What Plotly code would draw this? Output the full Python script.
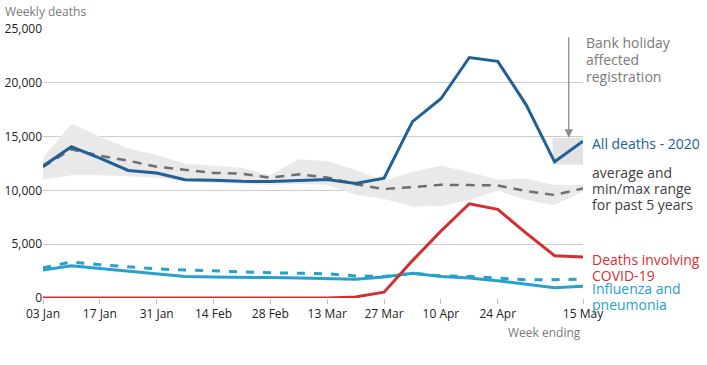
import plotly.graph_objects as go

# ---------------------------------------------------------
# Data (weekly deaths, England and Wales, 2020)
# ---------------------------------------------------------
weeks = ["2020-01-03", "2020-01-10", "2020-01-17", "2020-01-24", "2020-01-31",
         "2020-02-07", "2020-02-14", "2020-02-21", "2020-02-28", "2020-03-06",
         "2020-03-13", "2020-03-20", "2020-03-27", "2020-04-03", "2020-04-10",
         "2020-04-17", "2020-04-24", "2020-05-01", "2020-05-08", "2020-05-15"]

all_deaths_2020 = [12254, 14058, 12990, 11856, 11612, 10986, 10944, 10841, 10816, 10895,
                   11019, 10645, 11141, 16387, 18516, 22351, 21997, 17953, 12657, 14573]
avg_5yr = [12175, 13822, 13216, 12760, 12206, 11925, 11627, 11548, 11183, 11498,
           11205, 10573, 10130, 10305, 10520, 10497, 10458, 9941, 9576, 10188]
max_5yr = [13000, 16200, 15000, 13900, 13300, 12500, 12300, 12100, 11400, 12900,
           12700, 11900, 10900, 11700, 12300, 11700, 11000, 11100, 10500, 10500]
min_5yr = [11000, 11400, 11400, 11300, 11200, 10800, 10700, 10600, 10500, 10600,
           10500, 9600, 9200, 8500, 8550, 9100, 10000, 9100, 8650, 9900]
covid_deaths = [0, 0, 0, 0, 0, 0, 0, 0, 0, 0,
                5, 103, 539, 3475, 6213, 8758, 8237, 6035, 3930, 3810]
flu_pneu_2020 = [2600, 3000, 2750, 2500, 2300, 2000, 1950, 1950, 1900, 1850,
                 1800, 1750, 1950, 2300, 2000, 1850, 1600, 1300, 950, 1100]
flu_pneu_avg = [2800, 3350, 3100, 2900, 2700, 2600, 2500, 2450, 2350, 2300,
                2250, 2050, 2000, 2300, 2050, 2000, 1850, 1700, 1700, 1750]

tick_dates = ["2020-01-03", "2020-01-17", "2020-01-31", "2020-02-14", "2020-02-28",
              "2020-03-13", "2020-03-27", "2020-04-10", "2020-04-24", "2020-05-15"]
tick_text = ["03 Jan", "17 Jan", "31 Jan", "14 Feb", "28 Feb",
             "13 Mar", "27 Mar", "10 Apr", "24 Apr", "15 May"]

DARK_BLUE = "#206095"
TEAL = "#27a0cc"
RED = "#d32f2f"
GREY_LINE = "#6f6f6f"
BAND = "#e9e9e9"
TEXT_GREY = "#7a7a7a"
FONT = "Open Sans"

# plot area in pixels
W, H = 707, 365
L, R, T, B = 43, 124, 29, 67
PW, PH = W - L - R, H - T - B


def px(x, y):
    """pixel position -> paper coordinates"""
    return (x - L) / PW, (H - B - y) / PH


fig = go.Figure()

# Bank holiday highlight behind the last segment
fig.add_shape(type="rect", xref="x", yref="y",
              x0="2020-05-07 12:00", x1="2020-05-15 18:00", y0=12400, y1=14900,
              fillcolor="#e3e3e3", line=dict(width=0), layer="below")

# min/max range band
fig.add_trace(go.Scatter(x=weeks, y=min_5yr, mode="lines", line=dict(width=0),
                         hoverinfo="skip", showlegend=False))
fig.add_trace(go.Scatter(x=weeks, y=max_5yr, mode="lines", line=dict(width=0),
                         fill="tonexty", fillcolor=BAND, hoverinfo="skip", showlegend=False))

# 5 year averages
fig.add_trace(go.Scatter(x=weeks, y=avg_5yr, mode="lines",
                         line=dict(color=GREY_LINE, width=2.5, dash="9px,7px"), showlegend=False))
fig.add_trace(go.Scatter(x=weeks, y=flu_pneu_avg, mode="lines",
                         line=dict(color=TEAL, width=3, dash="8px,9px"), showlegend=False))

# 2020 series
fig.add_trace(go.Scatter(x=weeks, y=flu_pneu_2020, mode="lines",
                         line=dict(color=TEAL, width=3), showlegend=False))
fig.add_trace(go.Scatter(x=weeks, y=covid_deaths, mode="lines",
                         line=dict(color=RED, width=3), showlegend=False))
fig.add_trace(go.Scatter(x=weeks, y=all_deaths_2020, mode="lines",
                         line=dict(color=DARK_BLUE, width=3), showlegend=False))

# Line labels on the right, one annotation per line for tight spacing
labels = [
    ("All deaths - 2020", 590, 143, DARK_BLUE),
    ("average and", 590, 172, "#414042"),
    ("min/max range", 590, 188, "#414042"),
    ("for past 5 years", 590, 204, "#414042"),
    ("Deaths involving", 590, 259, RED),
    ("COVID-19", 590, 275, RED),
    ("Influenza and", 590, 288, TEAL),
    ("pneumonia", 590, 304, TEAL),
    ("Bank holiday", 584, 42, TEXT_GREY),
    ("affected", 584, 59, TEXT_GREY),
    ("registration", 584, 76, TEXT_GREY),
]
for text, xp, yp, colour in labels:
    ax_, ay_ = px(xp, yp)
    fig.add_annotation(text=text, xref="paper", x=ax_, xanchor="left",
                       yref="paper", y=ay_, yanchor="middle", showarrow=False, align="left",
                       font=dict(family=FONT, size=14, color=colour))

# Bank holiday arrow (points down onto the highlighted week)
fig.add_annotation(text="", xref="x", x="2020-05-11 12:00", yref="y", y=14900,
                   ax=0, ay=-102, showarrow=True, arrowhead=2, arrowsize=1.3,
                   arrowwidth=1.3, arrowcolor="#8c8c8c", standoff=0)

# Axis titles
x0_, y0_ = px(3, 11)
fig.add_annotation(text="Weekly deaths", xref="paper", x=x0_, xanchor="left",
                   yref="paper", y=y0_, yanchor="middle", showarrow=False,
                   font=dict(family=FONT, size=12, color=TEXT_GREY))
x1_, y1_ = px(583, 332)
fig.add_annotation(text="Week ending", xref="paper", x=x1_, xanchor="right",
                   yref="paper", y=y1_, yanchor="middle", showarrow=False,
                   font=dict(family=FONT, size=12, color=TEXT_GREY))

fig.update_layout(
    width=W, height=H,
    margin=dict(l=L, r=R, t=T, b=B),
    plot_bgcolor="white", paper_bgcolor="white",
    font=dict(family=FONT, size=12, color="#222222"),
    showlegend=False,
    xaxis=dict(type="date", range=["2020-01-03", "2020-05-15"],
               tickvals=tick_dates, ticktext=tick_text, automargin=False,
               showgrid=False, zeroline=False, showline=False,
               ticks="outside", ticklen=5, tickcolor="#bdbdbd",
               tickfont=dict(family=FONT, size=12, color="#222222")),
    yaxis=dict(range=[0, 25000], tickvals=[0, 5000, 10000, 15000, 20000, 25000],
               tickformat=",d", showgrid=True, gridcolor="#cccccc", gridwidth=1,
               zeroline=False, showline=False, ticks="", automargin=False,
               ticklabelstandoff=0,
               tickfont=dict(family=FONT, size=12, color="#222222")),
)

# the page body has a default 8px margin; drop it so the chart sits at the window corner
fig.write_html("out.html", config={"displayModeBar": False},
               post_script="document.body.style.margin='0px';")
